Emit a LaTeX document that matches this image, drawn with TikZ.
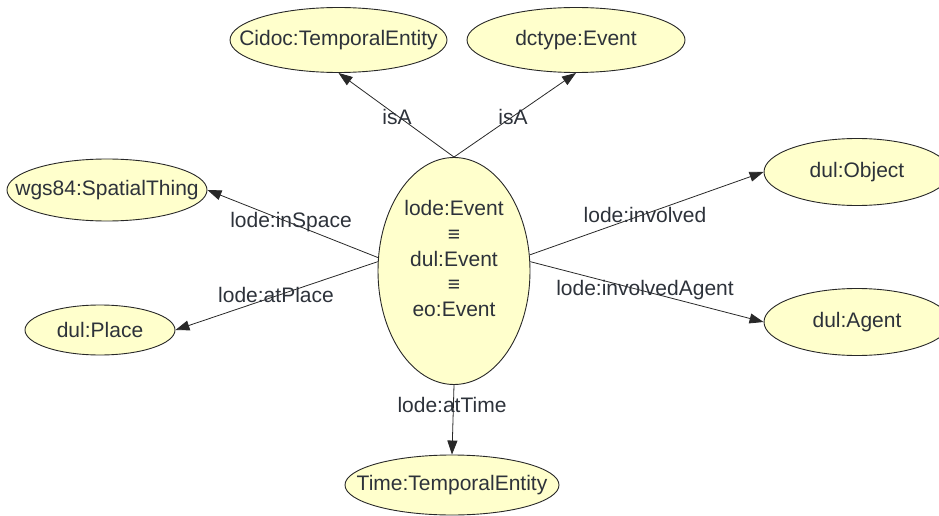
\documentclass[tikz,border=0pt]{standalone}
\usepackage{fontspec}
\setmainfont{Liberation Sans}
\usetikzlibrary{shapes.geometric,arrows.meta}
\definecolor{txt}{RGB}{45,50,58}
\definecolor{fillc}{RGB}{255,255,204}
\definecolor{linec}{RGB}{40,40,40}
\newcommand{\zw}[1]{\makebox[0pt]{#1}}
\tikzset{
  cls/.style={ellipse, draw=linec, line width=0.9pt, fill=fillc, inner sep=0pt,
    text=txt, font=\fontsize{21}{25.3}\selectfont},
  edge/.style={draw=linec, line width=0.8pt, -{Triangle[length=14pt,width=10pt]}},
  lab/.style={text=txt, font=\fontsize{21}{24}\selectfont, inner sep=0pt}
}
\begin{document}
\begin{tikzpicture}[x=1pt,y=-1pt]
\useasboundingbox (0,0) rectangle (939,516);
\clip (0,0) rectangle (939,516);
\node[cls, minimum width=152pt, minimum height=227pt] (ev) at (454,271)
  {\zw{\smash{\raisebox{4.5pt}{\begin{tabular}{@{}c@{}}lode:Event\\ ≡\\ dul:Event\\ ≡\\ eo:Event\end{tabular}}}}};
\node[cls, minimum width=217pt, minimum height=65pt] (cidoc) at (338.5,40) {\zw{Cidoc:TemporalEntity}};
\node[cls, minimum width=218pt, minimum height=65pt] (dctype) at (576,40) {\zw{dctype:Event}};
\node[cls, minimum width=200pt, minimum height=62pt] (wgs) at (107,190) {\zw{wgs84:SpatialThing}};
\node[cls, minimum width=150pt, minimum height=50pt] (place) at (100,330) {\zw{dul:Place}};
\node[cls, minimum width=186pt, minimum height=67pt] (object) at (857,172) {\zw{dul:Object}};
\node[cls, minimum width=186pt, minimum height=67pt] (agent) at (857,322) {\zw{dul:Agent}};
\node[cls, minimum width=214pt, minimum height=60pt] (time) at (452,485) {\zw{Time:TemporalEntity}};

\draw[edge] (ev.north) -- (cidoc.south) node[lab] at (397,117) {isA};
\draw[edge] (ev.north) -- (dctype.south) node[lab] at (513,117) {isA};
\draw[edge] (ev.170) -- (wgs.east) node[lab] at (291,222) {lode:inSpace};
\draw[edge] (ev.173) -- (place.east) node[lab] at (276,295) {lode:atPlace};
\draw[edge] (ev.12) -- (object.west) node[lab] at (645,215) {lode:involved};
\draw[edge] (ev.7) -- (agent.west) node[lab] at (645,290) {lode:involvedAgent};
\draw[edge] (ev.south) -- (time.north) node[lab] at (452,405) {lode:atTime};
\end{tikzpicture}
\end{document}
